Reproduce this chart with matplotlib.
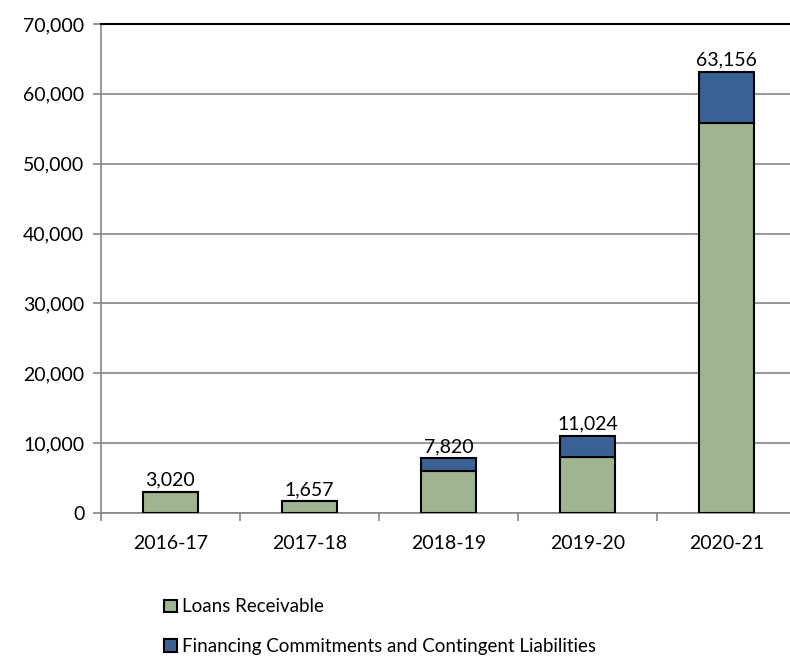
import matplotlib
matplotlib.use('Agg')
import matplotlib.pyplot as plt
import numpy as np

years = ['2016-17', '2017-18', '2018-19', '2019-20', '2020-21']
loans = [3020, 1657, 6000, 8000, 55800]
totals = [3020, 1657, 7820, 11024, 63156]
commitments = [t - l for t, l in zip(totals, loans)]

plt.rcParams['font.family'] = ['Lato', 'DejaVu Sans']
fs = 14

fig = plt.figure(figsize=(7.90, 6.59), dpi=100)
ax = fig.add_axes([101/790, 1 - 513/659, 695/790, 489/659])

x = np.arange(len(years))
b1 = ax.bar(x, loans, 0.4, color='#9fb592', edgecolor='black', linewidth=1.5,
            label='Loans Receivable', zorder=3)
b2 = ax.bar(x, commitments, 0.4, bottom=loans, color='#3a6194', edgecolor='black',
            linewidth=1.5, label='Financing Commitments and Contingent Liabilities', zorder=3)

for xi, t in zip(x, totals):
    ax.text(xi, t + 450, '{:,}'.format(t), ha='center', va='bottom', fontsize=fs)

ax.set_xlim(-0.5, 4.5)
ax.set_ylim(0, 70000)
ax.set_yticks(np.arange(0, 70001, 10000))
ax.set_yticklabels(['{:,}'.format(v) for v in range(0, 70001, 10000)], fontsize=fs)
ax.set_xticks(x)
ax.set_xticklabels(years, fontsize=fs)
ax.set_xticks(np.arange(-0.5, 5, 1), minor=True)
ax.tick_params(axis='x', which='major', length=0, pad=16)
ax.tick_params(axis='x', which='minor', length=6, color='#868686', width=1.2)
ax.tick_params(axis='y', length=6, color='#868686', width=1.2, pad=6)
ax.yaxis.grid(True, color='#868686', linewidth=1.2, zorder=0)
ax.set_axisbelow(True)

ax.spines['right'].set_visible(False)
ax.spines['top'].set_color('black')
ax.spines['top'].set_linewidth(1.5)
ax.spines['left'].set_color('#868686')
ax.spines['left'].set_linewidth(1.2)
ax.spines['bottom'].set_color('#868686')
ax.spines['bottom'].set_linewidth(1.2)

fig.legend(handles=[b1, b2], loc='upper left', bbox_to_anchor=(155/790, 1 - 589/659),
           frameon=False, fontsize=13.5, handlelength=0.65, handleheight=0.65,
           handletextpad=0.3, labelspacing=1.2, borderpad=0)

fig.savefig('out.png', dpi=100)
